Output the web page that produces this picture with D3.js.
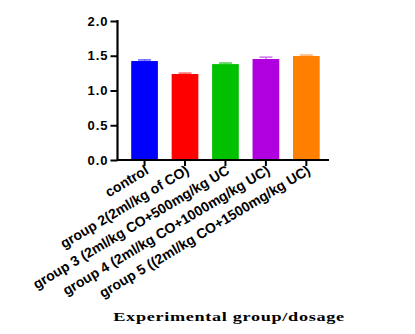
<!DOCTYPE html>
<html><head><meta charset="utf-8">
<script src="https://cdn.jsdelivr.net/npm/d3@7"></script>
<style>body{margin:0;background:#fff}</style>
</head><body>
<script>
const categories = ["control","group 2(2ml/kg of CO)","group 3 (2ml/kg CO+500mg/kg UC","group 4 (2ml/kg CO+1000mg/kg UC)","group 5 ((2ml/kg CO+1500mg/kg UC)"];
const values = [1.424, 1.237, 1.38, 1.453, 1.496];
const errors = [0.016, 0.013, 0.015, 0.027, 0.014];
const colors = ["#0000ff","#ff0000","#00c000","#b000e0","#ff8000"];
const capColors = ["#5a5aff","#ff6060","#40d040","#d070f0","#ffb070"];
const yTicks = [0, 0.5, 1.0, 1.5, 2.0];
const xTitle = "Experimental group/dosage";

const svg = d3.select("body").append("svg").attr("width",415).attr("height",334);
const x = d3.scaleBand().domain(categories).range([131.2,319.7]).paddingInner(0.34).paddingOuter(0);
const y = d3.scaleLinear().domain([0,2]).range([160,21]);

svg.selectAll("rect.bar").data(values).enter().append("rect")
  .attr("x",(d,i)=>x(categories[i])).attr("width",x.bandwidth())
  .attr("y",d=>y(d)).attr("height",d=>y(0)-y(d)).attr("fill",(d,i)=>colors[i]);
const capW = 13;
svg.selectAll("line.err").data(values).enter().append("line")
  .attr("x1",(d,i)=>x(categories[i])+x.bandwidth()/2).attr("x2",(d,i)=>x(categories[i])+x.bandwidth()/2)
  .attr("y1",d=>y(d)).attr("y2",(d,i)=>y(d+errors[i]))
  .attr("stroke",(d,i)=>capColors[i]).attr("stroke-width",1.5);
svg.selectAll("line.cap").data(values).enter().append("line")
  .attr("x1",(d,i)=>x(categories[i])+x.bandwidth()/2-capW/2).attr("x2",(d,i)=>x(categories[i])+x.bandwidth()/2+capW/2)
  .attr("y1",(d,i)=>y(d+errors[i])).attr("y2",(d,i)=>y(d+errors[i]))
  .attr("stroke",(d,i)=>capColors[i]).attr("stroke-width",1.5);

const ya = svg.append("g").attr("transform","translate(117.5,0)")
  .call(d3.axisLeft(y).tickValues(yTicks).tickFormat(d3.format(".1f")).tickSize(7).tickPadding(2));
ya.select(".domain").attr("stroke","#000").attr("stroke-width",2.2).attr("d","M0,20V160");
ya.selectAll(".tick line").attr("stroke","#000").attr("stroke-width",2);
ya.selectAll(".tick text").attr("font-family","Liberation Sans, Arial, sans-serif").attr("font-weight","bold")
  .attr("font-size",13).attr("letter-spacing",1).attr("fill","#000");

const xa = svg.append("g").attr("transform","translate(0,160)")
  .call(d3.axisBottom(x).tickSize(6).tickFormat(""));
xa.select(".domain").remove();
xa.selectAll(".tick line").attr("stroke","#000").attr("stroke-width",2);
svg.append("line").attr("x1",117).attr("x2",329).attr("y1",160).attr("y2",160).attr("stroke","#000").attr("stroke-width",2);

svg.selectAll("text.xl").data(categories).enter().append("text")
  .attr("transform",d=>`translate(${x(d)+x.bandwidth()/2+5},173) rotate(-31)`)
  .attr("text-anchor","end").attr("font-family","Liberation Sans, Arial, sans-serif").attr("font-weight","bold")
  .attr("font-size",14).attr("fill","#000").text(d=>d);

svg.append("text").attr("transform","translate(229,320.5) scale(1.35,1)").attr("text-anchor","middle")
  .attr("font-family","Liberation Serif, Times New Roman, serif").attr("font-weight","bold")
  .attr("font-size",13.5).attr("letter-spacing",0.5).attr("fill","#000").text(xTitle);
</script>
</body></html>
